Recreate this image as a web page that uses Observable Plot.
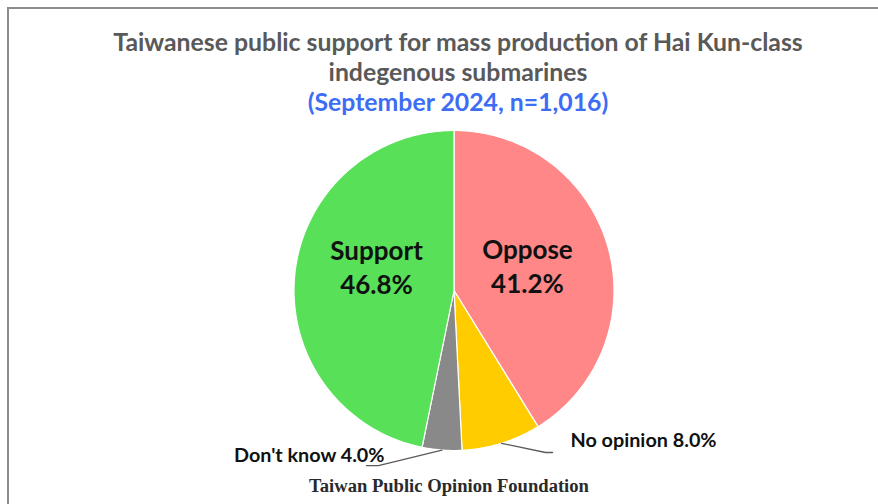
<!DOCTYPE html>
<html><head><meta charset="utf-8">
<script src="https://cdn.jsdelivr.net/npm/d3@7"></script>
<script src="https://cdn.jsdelivr.net/npm/@observablehq/plot@0.6"></script>
<style>
body{margin:0;background:#fff;}
#wrap{position:relative;width:878px;height:504px;overflow:hidden;font-family:Lato,"Open Sans",sans-serif;background:#fff;}
#frame{position:absolute;left:7px;top:7px;width:900px;height:600px;border-left:2px solid #8c8c8c;border-top:2px solid #8c8c8c;}
#title{position:absolute;left:0;width:916px;top:27px;text-align:center;font-weight:700;font-size:24.8px;line-height:30px;color:#595959;}
#title .sub{color:#3d6cf5;}
#chart{position:absolute;left:0;top:120px;}
#foot{position:absolute;left:0;width:898px;top:475px;text-align:center;font-family:"Liberation Serif",serif;font-weight:700;font-size:18.6px;color:#2a2a2a;}
</style></head>
<body>
<div id="wrap">
  <div id="frame"></div>
  <div id="title">Taiwanese public support for mass production of Hai Kun-class<br>indegenous submarines<br><span class="sub">(September 2024, n=1,016)</span></div>
  <div id="chart"></div>
  <div id="foot">Taiwan Public Opinion Foundation</div>
</div>
<script>
// ---- data ----
const categories = ["Oppose", "No opinion", "Don't know", "Support"];
const values = [41.2, 8.0, 4.0, 46.8];
const colors = ["#ff8787", "#ffcc00", "#898989", "#57e058"];

// ---- label placement (unit-circle coordinates) ----
const insideLabels = {"Support": [-0.484, 0.15], "Oppose": [0.459, 0.16]};
const outsideLabels = {
  "No opinion": {elbow: [0.572, -1.0125], end: [0.616, -1.0125], text: [0.728, -0.94], anchor: "start"},
  "Don't know": {elbow: [-0.472, -1.094], end: [-0.547, -1.094], text: [-0.434, -1.03], anchor: "end"}
};

const total = d3.sum(values);
let acc = 0;
const slices = categories.map((c, i) => {
  const a0 = acc / total * 2 * Math.PI;
  acc += values[i];
  const a1 = acc / total * 2 * Math.PI;
  return {name: c, value: values[i], a0, a1, mid: (a0 + a1) / 2};
});

// polygon points for each slice (clockwise from 12 o'clock)
const pts = [];
for (const s of slices) {
  pts.push({name: s.name, x: 0, y: 0});
  const n = Math.max(4, Math.ceil((s.a1 - s.a0) / (Math.PI / 180)));
  for (let k = 0; k <= n; k++) {
    const a = s.a0 + (s.a1 - s.a0) * k / n;
    pts.push({name: s.name, x: Math.sin(a), y: Math.cos(a)});
  }
  pts.push({name: s.name, x: 0, y: 0});
}

const fmt = v => v.toFixed(1) + "%";
const inside = slices.filter(s => insideLabels[s.name]).map(s => ({
  label: s.name + "\n" + fmt(s.value), x: insideLabels[s.name][0], y: insideLabels[s.name][1]
}));
const leaders = [];
const outside = [];
for (const s of slices) {
  const o = outsideLabels[s.name];
  if (!o) continue;
  leaders.push({name: s.name, x: Math.sin(s.mid), y: Math.cos(s.mid)});
  leaders.push({name: s.name, x: o.elbow[0], y: o.elbow[1]});
  leaders.push({name: s.name, x: o.end[0], y: o.end[1]});
  outside.push({label: s.name + " " + fmt(s.value), x: o.text[0], y: o.text[1], anchor: o.anchor});
}

const chart = Plot.plot({
  width: 878,
  height: 356,
  margin: 0,
  x: {domain: [-1, 1], range: [293.5, 613.5], axis: null},
  y: {domain: [-1, 1], range: [330, 10], axis: null},
  color: {domain: categories, range: colors},
  style: {fontFamily: "Lato, 'Open Sans', sans-serif", background: "transparent", overflow: "visible"},
  marks: [
    Plot.line(pts, {x: "x", y: "y", z: "name", fill: "name", stroke: "white", strokeWidth: 1.2, strokeLinejoin: "round"}),
    Plot.line(leaders, {x: "x", y: "y", z: "name", stroke: "#5a5a5a", strokeWidth: 1.3}),
    Plot.text(inside, {x: "x", y: "y", text: "label", fontSize: 26, fontWeight: 700, fill: "#111", lineHeight: 1.3}),
    Plot.text(outside.filter(d => d.anchor === "start"), {x: "x", y: "y", text: "label", fontSize: 19.8, fontWeight: 700, fill: "#111", textAnchor: "start"}),
    Plot.text(outside.filter(d => d.anchor === "end"), {x: "x", y: "y", text: "label", fontSize: 19.8, fontWeight: 700, fill: "#111", textAnchor: "end"})
  ]
});
document.getElementById("chart").appendChild(chart);
</script>
</body></html>
